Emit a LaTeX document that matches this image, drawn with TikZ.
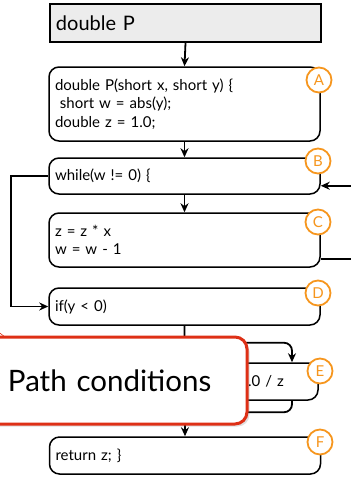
\documentclass[tikz,border=0pt]{standalone}
\usepackage{fontspec}
\setmainfont{Lato}
\usetikzlibrary{arrows.meta, shadows}
\definecolor{tagorange}{RGB}{246, 150, 30}
\definecolor{calloutred}{RGB}{222, 48, 22}
\definecolor{headgray}{RGB}{236, 236, 236}

\tikzset{
    stmt/.style={draw, rounded corners=10pt, line width=1.5pt, fill=white,
        text width=259pt, inner xsep=6pt, inner ysep=0pt, align=left,
        font=\fontsize{15}{18.5}\selectfont},
    tagc/.style={circle, draw=tagorange, line width=1.8pt, fill=white,
        minimum size=25pt, inner sep=0pt, text=tagorange,
        font=\fontsize{15}{15}\selectfont},
    flow/.style={-{Stealth[length=9pt, width=8pt]}, line width=1.8pt},
    seg/.style={line width=1.8pt},
}

\begin{document}
\begin{tikzpicture}[x=1pt, y=-1pt]
    \useasboundingbox (0,0) rectangle (351,477);

    % Header
    \node[draw, fill=headgray, line width=1.8pt, minimum height=38pt,
        text width=259pt, inner xsep=6pt, align=left,
        font=\fontsize{20}{24}\selectfont] (hdr) at (185.5,23) {double P};

    % Blocks
    \node[stmt, minimum height=74pt] (A) at (184.5,104)
        {double P(short x, short y) \{\\ \ short w = abs(y);\\ double z = 1.0;};
    \node[stmt, minimum height=36pt] (B) at (184.5,176) {while(w != 0) \{};
    \node[stmt, minimum height=54pt] (C) at (184.5,240) {z = z * x\\ w = w - 1};
    \node[stmt, minimum height=37pt] (D) at (184.5,306.5) {if(y < 0)};
    \node[stmt, minimum height=37pt, text width=98pt] (E) at (263,381.5) {z = 1.0 / z};
    \node[stmt, minimum height=37pt] (F) at (185,455.5) {return z; \}};

    % Tags
    \node[tagc] (tA) at (319,80) {A};
    \node[tagc] (tB) at (318,161) {B};
    \node[tagc] (tC) at (318,222) {C};
    \node[tagc] (tD) at (318,293) {D};
    \node[tagc] (tE) at (320,371) {E};
    \node[tagc] (tF) at (320,442) {F};

    % Edges
    \draw[flow] (hdr.south) -- (A.north);
    \draw[flow] (A.south) -- (B.north);
    \draw[flow] (B.south) -- (C.north);
    \draw[flow] ([yshift=9pt]C.south east) -- ++(40,0) |- ([yshift=9pt]B.south east);
    \draw[flow] (B.west) -- ++(-37,0) |- (D.west);
    \draw[flow] (D.south) -- (F.north);
    \draw[flow, rounded corners=8pt] ([yshift=-17pt]D.south) -| ([xshift=29pt]E.north);
    \draw[seg, rounded corners=8pt] ([xshift=29pt]E.south) |- ([yshift=24pt]F.north);

    % Callout
    \filldraw[draw=calloutred, fill=white, line width=0.6pt] (5,337) -- (-40,303) -- (-40,337) -- cycle;
    \node[draw=calloutred, line width=3pt, rounded corners=12pt, fill=white,
        drop shadow={opacity=0.25}, text width=211pt, inner xsep=28pt,
        minimum height=87pt, align=left,
        font=\fontsize{29.5}{32}\selectfont] (pc) at (113.5,380.5) {Path conditions};
\end{tikzpicture}
\end{document}
